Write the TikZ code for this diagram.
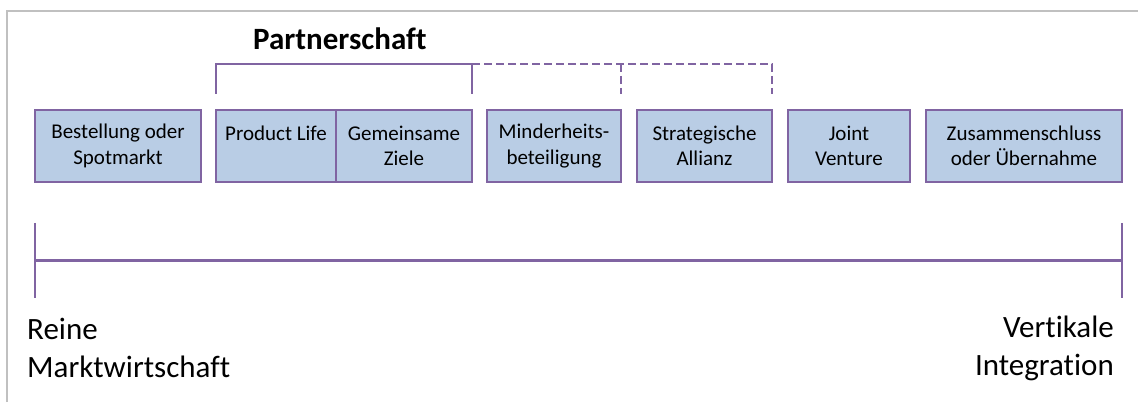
\documentclass[tikz,border=0pt]{standalone}
\usepackage{fontspec}
\setmainfont{Carlito}[Ligatures=NoCommon]
\usepackage{tikz}
\usetikzlibrary{positioning,calc}
\usepackage{xcolor}
\definecolor{stageblue}{RGB}{185,205,229}
\definecolor{stagepurple}{RGB}{128,100,162}
\definecolor{framegray}{RGB}{192,192,192}
\tikzset{
  stage/.style={rectangle, draw=stagepurple, line width=2.7pt, fill=stageblue,
                minimum height=72pt, inner sep=0pt, outer sep=0pt, align=center,
                font=\fontsize{21}{25.5}\selectfont},
  bracket/.style={draw=stagepurple, line width=2.5pt},
  axisline/.style={draw=stagepurple, line width=2.8pt},
  axislabel/.style={inner sep=0pt, font=\fontsize{31}{38}\selectfont},
}

\begin{document}
\begin{tikzpicture}[x=1pt, y=1pt, node distance=15pt]
\useasboundingbox (0,0) rectangle (1138,402);
\draw[framegray, line width=2pt] (7,0) -- (7,391) -- (1138,391);
% stages from market to hierarchy
\node[stage, minimum width=166pt] (order) at (118,256) {Bestellung oder\\Spotmarkt};
\node[stage, minimum width=120pt, right=of order] (life) {Product Life\\\phantom{Ziele}};
\node[stage, minimum width=136pt, right=0pt of life] (goals) {Gemeinsame\\Ziele};
\node[stage, minimum width=134pt, right=of goals] (minority) {Minderheits-\\beteiligung};
\node[stage, minimum width=135pt, right=16pt of minority] (alliance) {Strategische\\Allianz};
\node[stage, minimum width=122pt, right=16pt of alliance] (venture) {Joint\\Venture};
\node[stage, minimum width=196pt, right=16pt of venture] (merger) {Zusammenschluss\\oder Übernahme};
% partnership bracket
\node[axislabel, font=\fontsize{31}{38}\selectfont\bfseries, anchor=base] (partner) at (340,352) {Partnerschaft};
\draw[bracket] ($(life.north west)+(0,16)$) |- ($(goals.north east)+(0,46)$) -- ++(0,-30);
\draw[bracket, dash pattern=on 8pt off 4pt] ($(goals.north east)+(0,46)$) -| ($(alliance.north east)+(0,16)$);
\draw[bracket, dash pattern=on 8pt off 4pt] ($(minority.north east)+(0,46)$) -- ++(0,-30);
% axis
\coordinate (lefttop) at ($(order.west |- 0,179)$);
\coordinate (leftbot) at ($(order.west |- 0,104)$);
\coordinate (rightend) at ($(merger.east |- 0,179)$);
\coordinate (rightbot) at ($(merger.east |- 0,104)$);
\draw[axisline] (lefttop) -- (leftbot);
\draw[axisline] (rightend) -- (rightbot);
\draw[axisline] ($(lefttop)!0.5!(leftbot)$) -- ($(rightend)!0.5!(rightbot)$);
\node[axislabel, align=left, anchor=north west] (market) at (27,84) {Reine\\Marktwirtschaft};
\node[axislabel, align=right, anchor=north east] (integration) at (1114,86) {Vertikale\\Integration};
\end{tikzpicture}
\end{document}
